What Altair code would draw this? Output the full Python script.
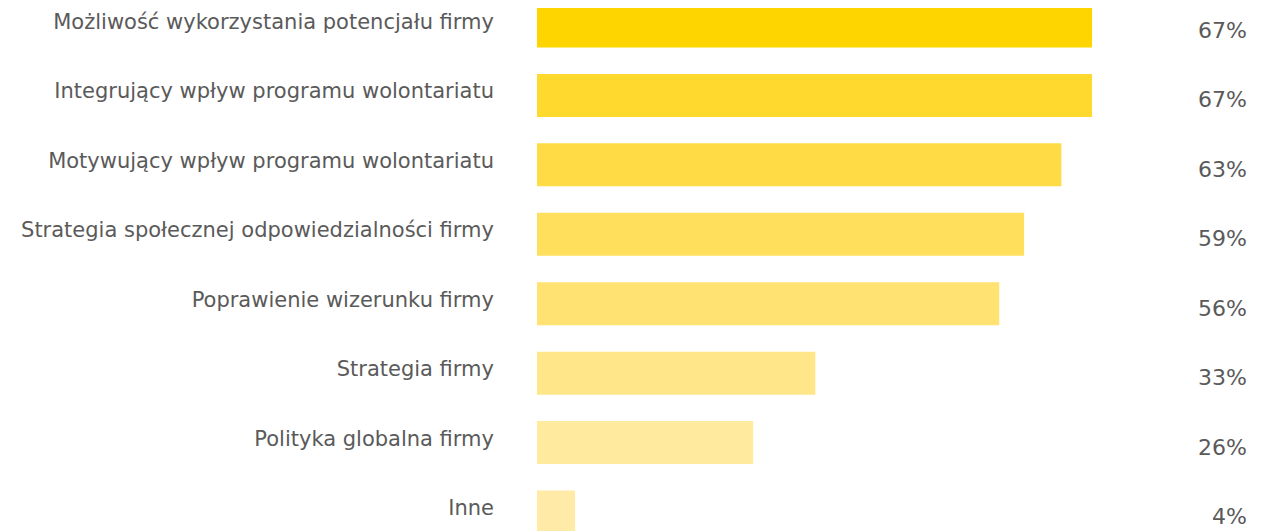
import altair as alt
import pandas as pd

categories = [
    "Możliwość wykorzystania potencjału firmy",
    "Integrujący wpływ programu wolontariatu",
    "Motywujący wpływ programu wolontariatu",
    "Strategia społecznej odpowiedzialności firmy",
    "Poprawienie wizerunku firmy",
    "Strategia firmy",
    "Polityka globalna firmy",
    "Inne",
]
values = [67.0, 67.0, 63.3, 58.8, 55.8, 33.6, 26.1, 4.6]
labels = ["67%", "67%", "63%", "59%", "56%", "33%", "26%", "4%"]
colors = ["#FFD500", "#FFD92E", "#FFDC45", "#FFDF5C", "#FFE272", "#FFE688", "#FFEA9E", "#FFEBA7"]

df = pd.DataFrame({
    "idx": list(range(len(categories))),
    "cat": categories,
    "val": values,
    "lab": labels,
    "col": colors,
})

W = 710
H = 523
step = 69.43
top = -18 / step
ydom = [top, top + H / step]

y = alt.Y("idx:Q", scale=alt.Scale(domain=ydom, reverse=True, nice=False, zero=False, padding=0),
          axis=None)
x = alt.X("val:Q", scale=alt.Scale(domain=[0, W / 8.284], nice=False, padding=0), axis=None)

base = alt.Chart(df)

bars = base.mark_bar(size=43, orient="horizontal").encode(
    x=x,
    x2=alt.datum(0),
    y=y,
    color=alt.Color("col:N", scale=None, legend=None),
)

FONT = "DejaVu Sans"

cat_text = base.mark_text(align="right", baseline="middle", font=FONT, fontSize=21,
                          color="#5A5A5A", dy=-3).encode(
    x=alt.value(-43),
    y=y,
    text="cat:N",
)

pct_text = base.mark_text(align="right", baseline="middle", font=FONT, fontSize=22,
                          color="#5A5A5A", dy=5).encode(
    x=alt.value(W),
    y=y,
    text="lab:N",
)

chart = alt.layer(bars, cat_text, pct_text).properties(
    width=W,
    height=H,
    autosize=alt.AutoSizeParams(type="none"),
    padding={"left": 529, "top": 0, "right": 0, "bottom": 0},
).configure_view(stroke=None)

chart.save("out.html", embed_options={"renderer": "svg", "actions": False})
